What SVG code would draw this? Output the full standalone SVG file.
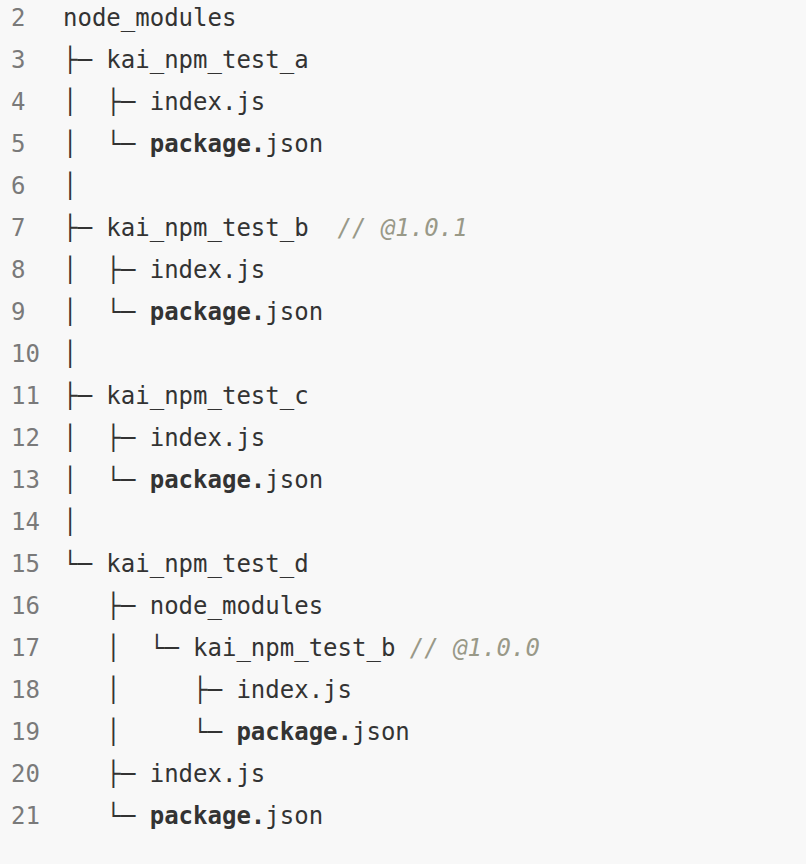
<svg xmlns="http://www.w3.org/2000/svg" width="806" height="864" viewBox="0 0 806 864">
<style>
.c{font-family:"DejaVu Sans Mono","Liberation Mono",monospace;font-size:24px;fill:#333;white-space:pre}
.n{font-family:"DejaVu Sans Mono","Liberation Mono",monospace;font-size:24px;fill:#7a7a7a}
.b{font-weight:bold}
.k{fill:#998;font-style:italic}
</style>
<rect width="806" height="864" fill="#f8f8f8"/>
<g id="line2"><text class="n" x="11" y="26">2</text><text class="c" x="63" y="26" xml:space="preserve">node_modules</text></g>
<g id="line3"><text class="n" x="11" y="68">3</text><text class="c" x="63" y="68" xml:space="preserve">├─ kai_npm_test_a</text></g>
<g id="line4"><text class="n" x="11" y="110">4</text><text class="c" x="63" y="110" xml:space="preserve">│  ├─ index.js</text></g>
<g id="line5"><text class="n" x="11" y="152">5</text><text class="c" x="63" y="152" xml:space="preserve">│  └─ <tspan class="b">package.</tspan>json</text></g>
<g id="line6"><text class="n" x="11" y="194">6</text><text class="c" x="63" y="194" xml:space="preserve">│</text></g>
<g id="line7"><text class="n" x="11" y="236">7</text><text class="c" x="63" y="236" xml:space="preserve">├─ kai_npm_test_b  <tspan class="k">// @1.0.1</tspan></text></g>
<g id="line8"><text class="n" x="11" y="278">8</text><text class="c" x="63" y="278" xml:space="preserve">│  ├─ index.js</text></g>
<g id="line9"><text class="n" x="11" y="320">9</text><text class="c" x="63" y="320" xml:space="preserve">│  └─ <tspan class="b">package.</tspan>json</text></g>
<g id="line10"><text class="n" x="11" y="362">10</text><text class="c" x="63" y="362" xml:space="preserve">│</text></g>
<g id="line11"><text class="n" x="11" y="404">11</text><text class="c" x="63" y="404" xml:space="preserve">├─ kai_npm_test_c</text></g>
<g id="line12"><text class="n" x="11" y="446">12</text><text class="c" x="63" y="446" xml:space="preserve">│  ├─ index.js</text></g>
<g id="line13"><text class="n" x="11" y="488">13</text><text class="c" x="63" y="488" xml:space="preserve">│  └─ <tspan class="b">package.</tspan>json</text></g>
<g id="line14"><text class="n" x="11" y="530">14</text><text class="c" x="63" y="530" xml:space="preserve">│</text></g>
<g id="line15"><text class="n" x="11" y="572">15</text><text class="c" x="63" y="572" xml:space="preserve">└─ kai_npm_test_d</text></g>
<g id="line16"><text class="n" x="11" y="614">16</text><text class="c" x="63" y="614" xml:space="preserve">   ├─ node_modules</text></g>
<g id="line17"><text class="n" x="11" y="656">17</text><text class="c" x="63" y="656" xml:space="preserve">   │  └─ kai_npm_test_b <tspan class="k">// @1.0.0</tspan></text></g>
<g id="line18"><text class="n" x="11" y="698">18</text><text class="c" x="63" y="698" xml:space="preserve">   │     ├─ index.js</text></g>
<g id="line19"><text class="n" x="11" y="740">19</text><text class="c" x="63" y="740" xml:space="preserve">   │     └─ <tspan class="b">package.</tspan>json</text></g>
<g id="line20"><text class="n" x="11" y="782">20</text><text class="c" x="63" y="782" xml:space="preserve">   ├─ index.js</text></g>
<g id="line21"><text class="n" x="11" y="824">21</text><text class="c" x="63" y="824" xml:space="preserve">   └─ <tspan class="b">package.</tspan>json</text></g>
</svg>
